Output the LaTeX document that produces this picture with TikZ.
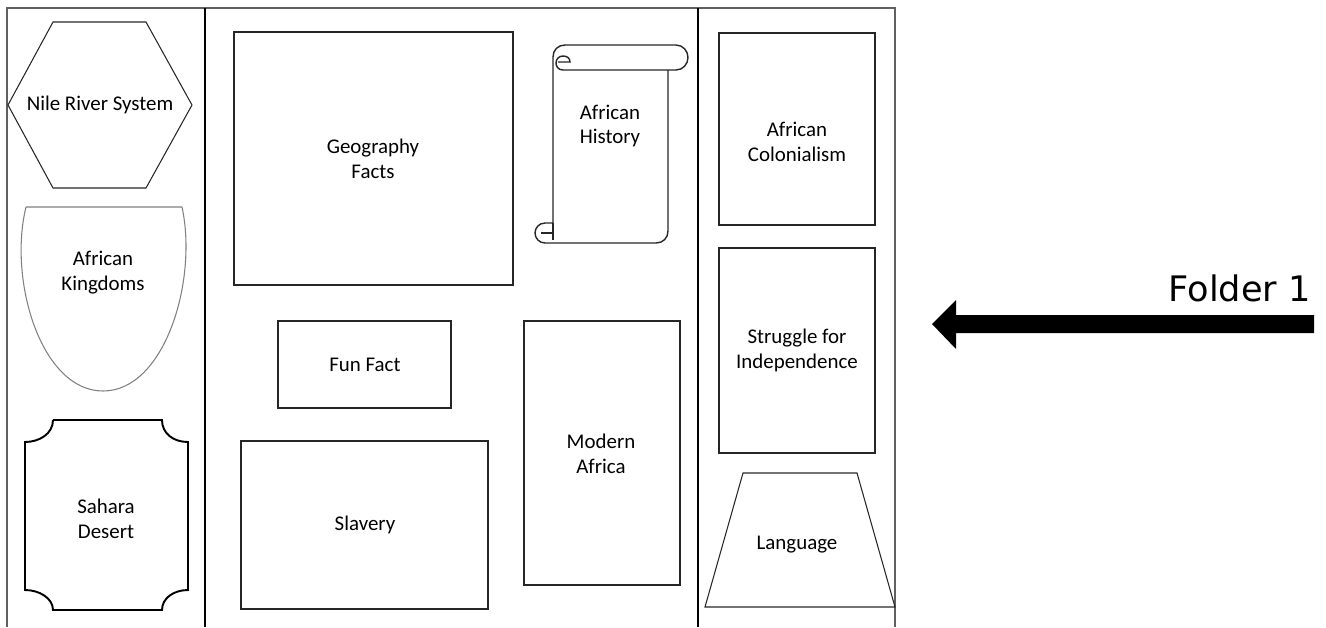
\documentclass[tikz,border=0pt]{standalone}
\usepackage{fontspec}
\setmainfont{Carlito}
\newfontfamily\folderfont{DejaVu Sans}

\tikzset{
  frameline/.style={draw=gray!75!black, line width=1.2pt},
  divline/.style={draw=black, line width=0.7pt},
  box/.style={draw=black!85, line width=0.6pt},
  boxtext/.style={align=center, font=\fontsize{11.9}{14.2}\selectfont},
}

\begin{document}
\begin{tikzpicture}[x=0.02cm, y=-0.02cm]
        \useasboundingbox (0,0) rectangle (1326,627);

        % outer frame and columns
        \draw[frameline] (7,627) -- (7,8) -- (895,8) -- (895,627);
        \draw[divline] (205,8) -- (205,627);
        \draw[divline] (698,8) -- (698,627);

        % left column
        \draw[box] (53,22) -- (146,22) -- (192,105) -- (146,188) -- (53,188) -- (8,105) -- cycle;
        \node[boxtext] (nile) at (100,105) {Nile River System};

        \draw[draw=gray, line width=0.6pt] (26,207) -- (182,207) .. controls (198,280) and (165,391) .. (103,391)
              .. controls (41,391) and (8,280) .. (26,207);
        \node[boxtext] (kingdoms) at (103,273) {African\\Kingdoms};

        \draw[black, line width=1.1pt] (53,420) -- (162,420) .. controls (162,434) and (174,442) .. (188,442)
              -- (188,590) .. controls (174,590) and (162,598) .. (162,610) -- (53,610)
              .. controls (53,598) and (39,590) .. (25,590) -- (25,442)
              .. controls (39,442) and (53,434) .. (53,420);
        \node[boxtext] (sahara) at (106,519) {Sahara\\Desert};

        % middle column
        \draw[box] (234,32) rectangle (513,285);
        \node[boxtext] (geo) at (373,159) {Geography\\Facts};

        \draw[box, line width=0.8pt] (565,45) -- (676,45) .. controls (683,45) and (688,51) .. (688,57.5)
              .. controls (688,64) and (683,70) .. (676,70) -- (563,70);
        \draw[box, line width=0.8pt] (668,70) -- (668,231) .. controls (668,238) and (663,243) .. (656,243)
              -- (545,243) .. controls (539,243) and (535,238) .. (535,233)
              .. controls (535,228) and (539,223) .. (545,223) -- (553,223) -- (553,57)
              .. controls (553,50) and (558,45) .. (565,45);
        \draw[box, line width=0.8pt] (563,70) .. controls (558,70) and (556,66) .. (556,63)
              .. controls (556,59) and (559,56) .. (563,56) .. controls (567,56) and (570,58) .. (570,62)
              -- (558,62);
        \draw[box, line width=0.8pt] (553,223) -- (553,240);
        \draw[box, line width=0.8pt] (541,233) -- (553,233);
        \node[boxtext] (history) at (610,126) {African\\History};

        \draw[box] (278,321) rectangle (451,408);
        \node[boxtext] (funfact) at (365,365) {Fun Fact};

        \draw[box] (524,321) rectangle (680,585);
        \node[boxtext] (modern) at (601,454) {Modern\\Africa};

        \draw[box] (241,441) rectangle (488,609);
        \node[boxtext] (slavery) at (365,525) {Slavery};

        % right column
        \draw[box] (719,33) rectangle (875,225);
        \node[boxtext] (colonial) at (797,142) {African\\Colonialism};

        \draw[box] (719,248) rectangle (875,453);
        \node[boxtext] (struggle) at (797,350) {Struggle for\\Independence};

        \draw[box] (743,473) -- (857,473) -- (895,607) -- (705,607) -- cycle;
        \node[boxtext] (language) at (797,545) {Language};

        % folder pointer
        \node[anchor=south east, inner sep=0pt, font=\folderfont\fontsize{20}{22}\selectfont] (folder) at (1311,302) {Folder 1};
        \coordinate (tip) at (932,324);
        \fill[black] (tip) -- (956,300) -- (956,315) -- (1314,315) -- (1314,333) -- (956,333) -- (956,349) -- cycle;

    \end{tikzpicture}
\end{document}
